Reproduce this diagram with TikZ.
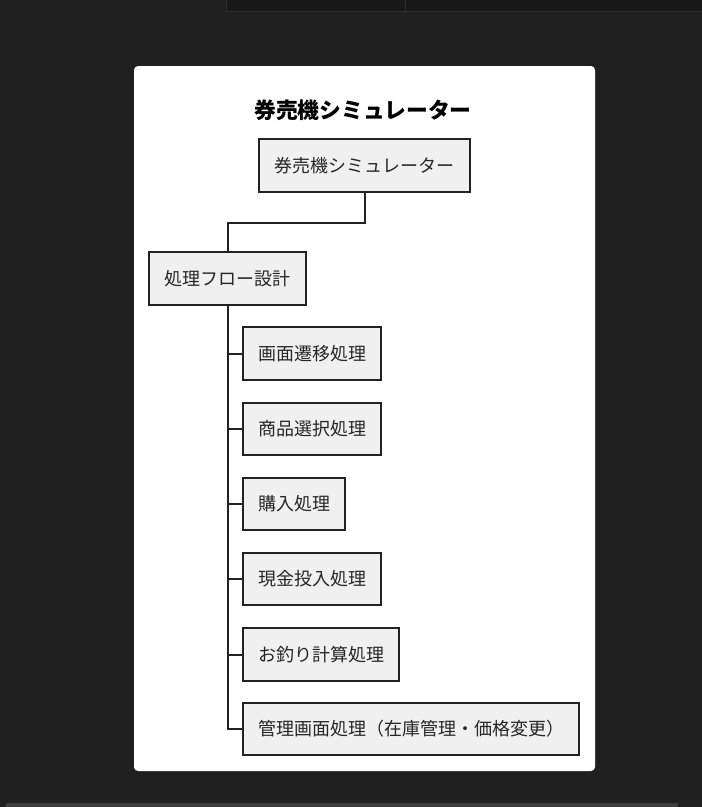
\documentclass[tikz,border=0pt]{standalone}
\usepackage{fontspec}
\newfontfamily\cjk{Noto Sans CJK JP}
\definecolor{bgdark}{HTML}{1F1F1F}
\definecolor{bardark}{HTML}{181818}
\definecolor{barline}{HTML}{2E2E2E}
\definecolor{bottombar}{HTML}{3C3C3C}
\definecolor{boxfill}{HTML}{F0F0F0}
\definecolor{boxline}{HTML}{222222}
\tikzset{
  box/.style={draw=boxline, line width=2pt, fill=boxfill, anchor=north west, inner sep=0pt,
    font=\cjk\fontsize{18}{21}\selectfont, text=black!85},
  conn/.style={draw=boxline, line width=2pt}
}
\begin{document}
\begin{tikzpicture}[x=1pt,y=-1pt]
\useasboundingbox (0,0) rectangle (702,807);
\fill[bgdark] (0,0) rectangle (702,807);
\fill[bardark] (226,0) rectangle (702,11);
\draw[barline, line width=0.8pt] (226,11) -- (702,11) (226,0) -- (226,11) (405,0) -- (405,11);
\fill[bottombar] (6,803) rectangle (678,807);
\fill[white, rounded corners=4pt] (134,66) rectangle (595,771);

\node[font=\cjk\bfseries\fontsize{21.8}{25}\selectfont, text=black] (title) at (363,110) {券売機シミュレーター};

\node[box, minimum width=211pt, minimum height=53pt] (root) at (258,138) {券売機シミュレーター};
\node[box, minimum width=157pt, minimum height=53pt] (flow) at (148,251) {処理フロー設計};

\node[box, minimum width=138pt, minimum height=53pt] (c1) at (242,326) {画面遷移処理};
\node[box, minimum width=138pt, minimum height=52pt] (c2) at (242,402) {商品選択処理};
\node[box, minimum width=102pt, minimum height=52pt] (c3) at (242,477) {購入処理};
\node[box, minimum width=138pt, minimum height=52pt] (c4) at (242,552) {現金投入処理};
\node[box, minimum width=156pt, minimum height=53pt] (c5) at (242,627) {お釣り計算処理};
\node[box, minimum width=336pt, minimum height=52pt] (c6) at (242,702) {管理画面処理（在庫管理・価格変更）};

\coordinate (spine) at (228,0);
\draw[conn] (root.south) -- ++(0,30) -| (flow.north -| spine);
\draw[conn] (flow.south -| spine) -- (c6.west -| spine) -- (c6.west);
\foreach \c in {c1,c2,c3,c4,c5}{
  \draw[conn] (\c.west -| spine) -- (\c.west);
}
\end{tikzpicture}
\end{document}
